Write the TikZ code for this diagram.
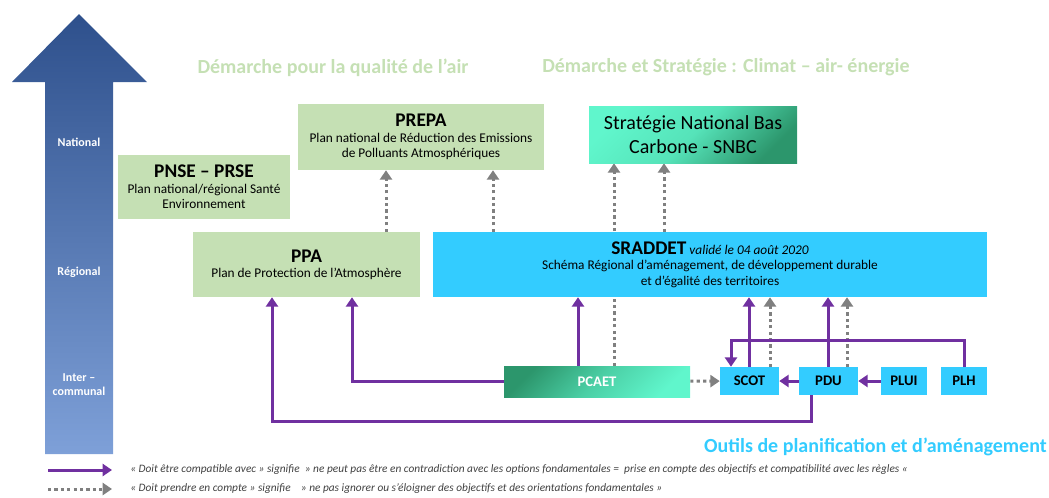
\documentclass[tikz,border=0pt]{standalone}
\usepackage{fontspec}
\setmainfont{Carlito}
\usepackage{xcolor}
\usetikzlibrary{arrows.meta}

\definecolor{vertclair}{RGB}{197,224,180}
\definecolor{bleuciel}{RGB}{51,204,255}
\definecolor{violet}{RGB}{112,48,160}
\definecolor{grisfleche}{RGB}{128,128,128}
\definecolor{flechehaut}{RGB}{46,80,140}
\definecolor{flechebas}{RGB}{126,160,216}
\definecolor{tealclair}{RGB}{96,246,204}
\definecolor{tealfonce}{RGB}{44,150,108}
\definecolor{texteleg}{RGB}{64,64,64}

\pgfdeclarelayer{fond}
\pgfsetlayers{fond,main}

\newcommand{\titreplan}{\bfseries\fontsize{14.5}{17}\selectfont}

\tikzset{
  niveau/.style={text=white, align=center, inner sep=0pt, font=\bfseries\fontsize{9}{10.5}\selectfont},
  demarche/.style={text=vertclair, inner sep=0pt, font=\bfseries\fontsize{15}{17}\selectfont},
  planvert/.style={fill=vertclair, align=center, inner sep=0pt, font=\fontsize{10}{11.5}\selectfont},
  planbleu/.style={fill=bleuciel, align=center, inner sep=0pt, font=\fontsize{10}{11.5}\selectfont},
  outil/.style={fill=bleuciel, inner sep=0pt, minimum height=21pt, font=\bfseries\fontsize{11}{13}\selectfont},
  compat/.style={draw=violet, line width=2.25pt, -{Triangle[width=9pt,length=7pt]}},
  prise/.style={draw=grisfleche, line width=2.25pt, dash pattern=on 2.4pt off 2.4pt, -{Triangle[width=9pt,length=7pt]}},
  legende/.style={anchor=west, inner sep=0pt, text=texteleg, font=\itshape\fontsize{8.5}{10}\selectfont},
}

\begin{document}
\begin{tikzpicture}[x=0.75pt,y=0.75pt,yscale=-1,xscale=1]
\useasboundingbox (0,0) rectangle (1049,497);

%Shape: big arrow (niveaux)
\shade [top color=flechehaut, bottom color=flechebas] (45,454) -- (45,82) -- (12,82) -- (79,14) -- (147,82) -- (113,82) -- (113,454) -- cycle;

% Text Node
\node (national) [niveau] at (79,142) {National};
\node (regional) [niveau] at (79,272) {Régional};
\node (intercom) [niveau] at (79,385) {Inter –\\communal};

% Text Node
\node (demair) [demarche] at (333,68) {Démarche pour la qualité de l’air};
\node (demclimat) [demarche] at (726,67) {Démarche et Stratégie : Climat – air- énergie};

%Shape: plans nationaux
\node (pnse) [planvert, minimum width=129pt, minimum height=48pt] at (204,187)
  {{\titreplan PNSE – PRSE}\\Plan national/régional Santé\\Environnement};
\node (prepa) [planvert, minimum width=184.5pt, minimum height=49.5pt] at (421,137)
  {{\titreplan PREPA}\\Plan national de Réduction des Emissions\\de Polluants Atmosphériques};
\node (snbc) [top color=tealclair, bottom color=tealfonce, middle color=tealclair!80!tealfonce, shading angle=45, align=center, inner sep=0pt,
  minimum width=156pt, minimum height=42.75pt, font=\fontsize{15}{18}\selectfont] at (693,134.5)
  {Stratégie National Bas\\Carbone - SNBC};

%Shape: plans regionaux
\node (ppa) [planvert, minimum width=170.25pt, minimum height=48.75pt] at (306.5,264.5)
  {{\titreplan PPA}\\Plan de Protection de l’Atmosphère};
\node (sraddet) [planbleu, minimum width=415.5pt, minimum height=48.75pt] at (710,264.5)
  {{\titreplan SRADDET} {\itshape validé le 04 août 2020}\\Schéma Régional d’aménagement, de développement durable\\et d’égalité des territoires};

%Shape: outils intercommunaux
\node (pcaet) [top color=tealfonce, bottom color=tealclair, middle color=tealfonce!40!tealclair, shading angle=45, inner sep=0pt, text=white,
  minimum width=139.5pt, minimum height=23.25pt, font=\bfseries\fontsize{11}{13}\selectfont] at (597,381.5) {PCAET};
\node (scot) [outil, minimum width=44.25pt] at (749.5,381) {SCOT};
\node (pdu) [outil, minimum width=44.25pt] at (828.5,381) {PDU};
\node (plui) [outil, minimum width=34.5pt] at (904,381) {PLUI};
\node (plh) [outil, minimum width=34.5pt] at (964,381) {PLH};

% Text Node
\node (outils) [anchor=east, inner sep=0pt, text=bleuciel, font=\bfseries\fontsize{15}{17}\selectfont] at (1047,447)
  {Outils de planification et d’aménagement};

%Straight Lines: connecteurs
\begin{pgfonlayer}{fond}
% doit prendre en compte
\draw [prise] (ppa.north -| 386,0) -- (prepa.south -| 386,0);
\draw [prise] (sraddet.north -| 493,0) -- (prepa.south -| 493,0);
\draw [prise] (pcaet.north -| 614,0) -- (snbc.south -| 614,0);
\draw [prise] (sraddet.north -| 664,0) -- (snbc.south -| 664,0);
\draw [prise] (pcaet) -- (scot);
\draw [prise] (scot.north -| 770,0) -- (sraddet.south -| 770,0);
\draw [prise] (pdu.north -| 847,0) -- (sraddet.south -| 847,0);
% doit etre compatible
\draw [compat] (pcaet.north -| 578,0) -- (sraddet.south -| 578,0);
\draw [compat] (pcaet.west) -| (ppa.south -| 352,0);
\draw [compat] (pdu.south -| 811,0) -- ++(0,26) -| (ppa.south -| 272,0);
\draw [compat] (scot.north -| 749,0) -- (sraddet.south -| 749,0);
\draw [compat] (pdu.north -| 828,0) -- (sraddet.south -| 828,0);
\draw [compat] (pdu) -- (scot);
\draw [compat] (plui) -- (pdu);
\draw [compat] (plh.north) -- ++(0,-26) -| (scot.north -| 731,0);
\end{pgfonlayer}

%Legende
\coordinate (leg1a) at (48,470);
\coordinate (leg1b) at (112,470);
\coordinate (leg2a) at (48,489);
\coordinate (leg2b) at (112,489);
\draw [compat] (leg1a) -- (leg1b);
\draw [prise] (leg2a) -- (leg2b);
\node (legcompat) [legende] at (130,470) {« Doit être compatible avec » signifie~ » ne peut pas être en contradiction avec les options fondamentales =~ prise en compte des objectifs et compatibilité avec les règles «};
\node (legprise) [legende] at (130,489) {« Doit prendre en compte » signifie~~~ » ne pas ignorer ou s’éloigner des objectifs et des orientations fondamentales »};

\end{tikzpicture}
\end{document}
